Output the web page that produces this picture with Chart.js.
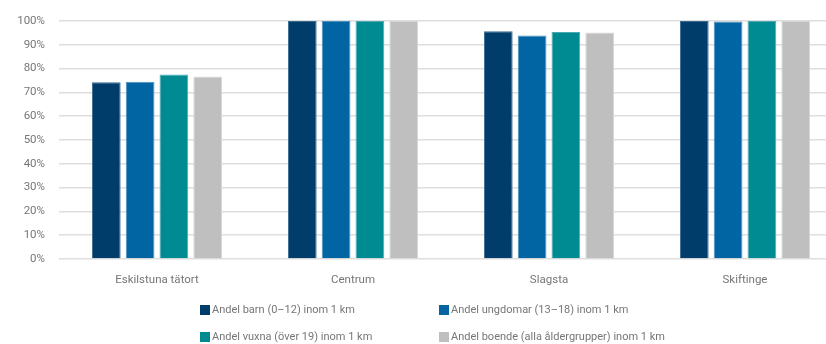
<!DOCTYPE html>
<html>
<head>
<meta charset="utf-8">
<script src="https://cdn.jsdelivr.net/npm/chart.js@4.4.1/dist/chart.umd.min.js"></script>
<style>
  html, body { margin: 0; padding: 0; background: #fff; overflow: hidden; }
  #wrap { position: relative; width: 826px; height: 344px; overflow: hidden; }
  #box { position: absolute; left: 0; top: 0; width: 850px; height: 290px; }
  #legend { position: absolute; left: 0; top: 0; width: 826px; height: 344px; pointer-events: none;
    font-family: Roboto, "Open Sans", sans-serif; font-size: 11px; color: #767676; }
  .item { position: absolute; display: flex; align-items: center; white-space: nowrap; }
  .sw { width: 10px; height: 10px; margin-right: 2px; }
</style>
</head>
<body>
<div id="wrap">
  <div id="box"><canvas id="c"></canvas></div>
  <div id="legend"></div>
</div>
<script>
const categories = ["Eskilstuna tätort", "Centrum", "Slagsta", "Skiftinge"];
const seriesNames = [
  "Andel barn (0–12) inom 1 km",
  "Andel ungdomar (13–18) inom 1 km",
  "Andel vuxna (över 19) inom 1 km",
  "Andel boende (alla åldergrupper) inom 1 km"
];
const barn = [74.2, 100, 95.7, 100];
const ungdomar = [74.4, 100, 93.9, 99.7];
const vuxna = [77.5, 100, 95.3, 100];
const boende = [76.7, 100, 95.1, 100];
const yTicks = [0, 10, 20, 30, 40, 50, 60, 70, 80, 90, 100];

const colors = ["#003d6a", "#0065a2", "#008b93", "#bfbfbf"];
const borders = ["#3a6a90", "#4a8fbd", "#4aaab0", "#d6d6d6"];
const values = [barn, ungdomar, vuxna, boende];

const font = { family: "Roboto, 'Open Sans', sans-serif", size: 11.5 };

new Chart(document.getElementById("c"), {
  type: "bar",
  data: {
    labels: categories,
    datasets: values.map((v, i) => ({
      label: seriesNames[i],
      data: v,
      backgroundColor: colors[i],
      borderColor: borders[i],
      borderWidth: 1,
      categoryPercentage: 0.69,
      barPercentage: 0.85
    }))
  },
  options: {
    responsive: true,
    maintainAspectRatio: false,
    animation: false,
    layout: { padding: { top: 10, right: 7, bottom: 0, left: 0 } },
    plugins: { legend: { display: false }, tooltip: { enabled: false } },
    scales: {
      x: {
        grid: { display: false },
        border: { display: false },
        ticks: { color: "#767676", font: font, padding: 6 },
        afterFit: (a) => { a.height = 31; }
      },
      y: {
        min: 0, max: 100,
        afterBuildTicks: (a) => { a.ticks = yTicks.map(v => ({ value: v })); },
        grid: { color: "#dedede", lineWidth: 1.5, drawTicks: false },
        border: { display: false },
        ticks: { color: "#767676", font: font, padding: 14, callback: (v) => v + "%" },
        afterFit: (a) => { a.width = 59; }
      }
    }
  }
});

const leg = document.getElementById("legend");
const pos = [[200, 303], [439, 303], [200, 330], [439, 330]];
seriesNames.forEach((n, i) => {
  const d = document.createElement("div");
  d.className = "item";
  d.style.left = pos[i][0] + "px";
  d.style.top = pos[i][1] + "px";
  d.innerHTML = '<span class="sw" style="background:' + colors[i] + '"></span><span></span>';
  d.lastChild.textContent = n;
  leg.appendChild(d);
});
</script>
</body>
</html>
